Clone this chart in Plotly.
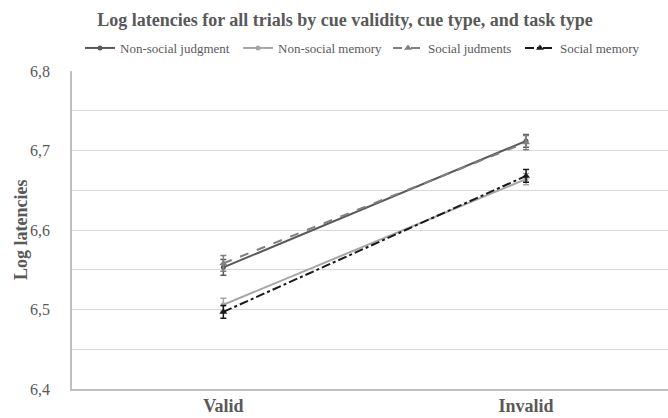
import plotly.graph_objects as go

categories = ["Valid", "Invalid"]
series_names = ["Non-social judgment", "Non-social memory", "Social judments", "Social memory"]
nsj = [6.553, 6.712]
nsm = [6.506, 6.664]
sj = [6.558, 6.710]
sm = [6.497, 6.668]
nsj_err = [0.010, 0.008]
nsm_err = [0.008, 0.007]
sj_err = [0.010, 0.009]
sm_err = [0.008, 0.008]
ytick_vals = [6.4, 6.45, 6.5, 6.55, 6.6, 6.65, 6.7, 6.75, 6.8]
ytick_text = ["6,4", "", "6,5", "", "6,6", "", "6,7", "", "6,8"]

styles = [
    dict(color="#595959", dash="solid", symbol="circle", size=5),
    dict(color="#a6a6a6", dash="solid", symbol="circle", size=5),
    dict(color="#808080", dash="dash", symbol="triangle-up", size=7),
    dict(color="#1a1a1a", dash="dashdot", symbol="triangle-up", size=7),
]
values = [nsj, nsm, sj, sm]
errs = [nsj_err, nsm_err, sj_err, sm_err]
legend_x = [80, 238, 388, 520]

fig = go.Figure()
xpos = list(range(len(categories)))
for i, (name, v, e, st) in enumerate(zip(series_names, values, errs, styles)):
    lg = "legend" if i == 0 else f"legend{i+1}"
    fig.add_trace(go.Scatter(
        x=xpos, y=v, name=name, mode="lines+markers",
        line=dict(color=st["color"], width=2, dash=st["dash"]),
        marker=dict(color=st["color"], symbol=st["symbol"], size=st["size"]),
        error_y=dict(type="data", array=e, color=st["color"], thickness=1.5, width=3),
        legend=lg,
    ))

font_family = "Liberation Serif"
text_color = "#595959"
layout_legends = {}
for i, lx in enumerate(legend_x):
    key = "legend" if i == 0 else f"legend{i+1}"
    layout_legends[key] = dict(
        xref="container", yref="container", x=lx / 668, y=1 - 48 / 418,
        xanchor="left", yanchor="middle", orientation="h",
        itemwidth=30, bgcolor="rgba(0,0,0,0)", borderwidth=0,
        font=dict(family=font_family, size=13, color=text_color),
    )

fig.update_layout(
    width=668, height=418,
    margin=dict(l=72, r=0, t=71, b=29),
    paper_bgcolor="white", plot_bgcolor="white",
    title=dict(text="<b>Log latencies for all trials by cue validity, cue type, and task type</b>",
               x=345 / 668, xanchor="center", y=1 - 20 / 418, yanchor="middle",
               font=dict(family=font_family, size=18, color=text_color)),
    showlegend=True,
    **layout_legends,
)
fig.add_annotation(
    text="<b>Log latencies</b>", xref="paper", yref="paper",
    x=(21 - 72) / 596, y=0.5, xanchor="center", yanchor="middle",
    textangle=-90, showarrow=False,
    font=dict(family=font_family, size=18, color=text_color),
)
fig.update_xaxes(
    range=[-0.5, 1.469], tickvals=xpos, ticktext=[f"<b>{c}</b>" for c in categories],
    showgrid=False, showline=True, linecolor="#bfbfbf", linewidth=1.5,
    ticks="", zeroline=False,
    tickfont=dict(family=font_family, size=18, color=text_color),
)
fig.update_yaxes(
    range=[6.4, 6.8], tickvals=ytick_vals, ticktext=ytick_text,
    showgrid=True, gridcolor="#d9d9d9", gridwidth=1,
    showline=True, linecolor="#bfbfbf", linewidth=1.5,
    ticks="", ticklabelstandoff=17, zeroline=False,
    tickfont=dict(family=font_family, size=16, color=text_color),
)
fig.write_html("out.html")
